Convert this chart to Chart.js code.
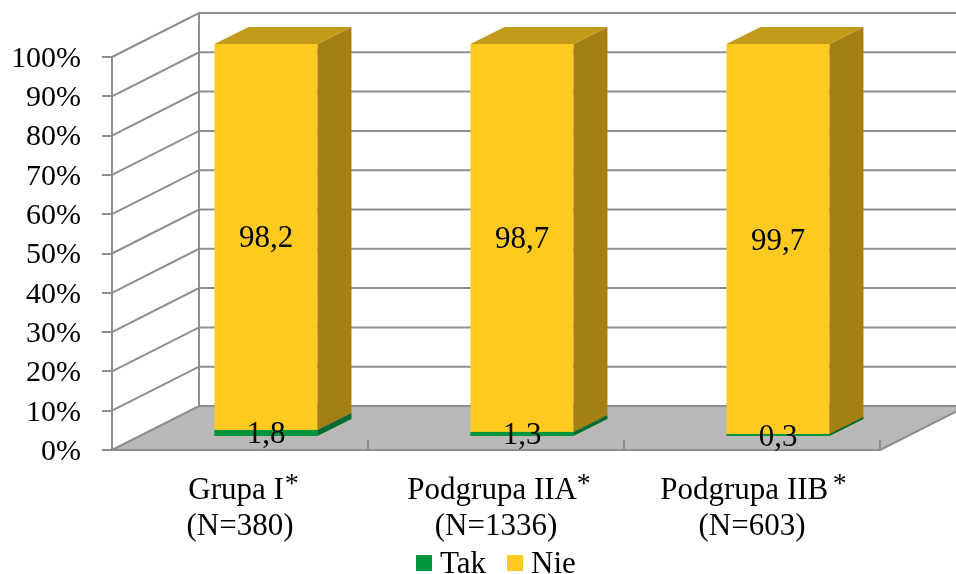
<!DOCTYPE html>
<html>
<head>
<meta charset="utf-8">
<script src="https://cdn.jsdelivr.net/npm/chart.js@4"></script>
<style>
  html, body { margin: 0; padding: 0; background: #fff; }
  canvas { display: block; }
</style>
</head>
<body>
<canvas id="chart" width="956" height="574"></canvas>
<script>
// Dane
const categories = [
  ['Grupa I\u00a0', '(N=380)'],
  ['Podgrupa IIA\u00a0', '(N=1336)'],
  ['Podgrupa IIB\u00a0\u00a0', '(N=603)']
];
const takValues = [1.8, 1.3, 0.3];
const nieValues = [98.2, 98.7, 99.7];
const yTicks = [0, 10, 20, 30, 40, 50, 60, 70, 80, 90, 100];

const FONT = '"Liberation Serif"';
const LINE = '#8e8e8e';

// przesuniecia perspektywy
const wallDx = 87, wallDy = 44;
const barDx = 26, barDy = 13;
const sideDx = 34, sideDy = 17;

const sideColors = ['#006c30', '#a47f13'];
const topColor = '#c29a17';
const starShift = [-7, -8, -11];
const minGreen = 2; // najcienszy pasek ma byc widoczny

function poly(ctx, pts) {
  ctx.beginPath();
  pts.forEach((p, i) => i ? ctx.lineTo(p[0], p[1]) : ctx.moveTo(p[0], p[1]));
  ctx.closePath();
}

const box3d = {
  id: 'box3d',
  beforeDraw(chart) {
    const { ctx, chartArea: a, scales: { y } } = chart;
    const backL = a.left + wallDx, backR = a.right + wallDx;
    ctx.save();
    // podloga
    poly(ctx, [[a.left, a.bottom], [a.right, a.bottom], [backR, a.bottom - wallDy], [backL, a.bottom - wallDy]]);
    ctx.fillStyle = '#b8b8b8';
    ctx.fill();
    // siatka
    ctx.strokeStyle = LINE;
    ctx.lineWidth = 2;
    yTicks.forEach(v => {
      const py = y.getPixelForValue(v);
      ctx.beginPath();
      ctx.moveTo(a.left, py);
      ctx.lineTo(backL, py - wallDy);
      ctx.lineTo(backR, py - wallDy);
      ctx.stroke();
    });
    ctx.beginPath();
    ctx.moveTo(a.left, a.top);
    ctx.lineTo(a.left, a.bottom);
    ctx.moveTo(backL, a.top - wallDy);
    ctx.lineTo(backL, a.bottom - wallDy);
    ctx.moveTo(a.right, a.bottom);
    ctx.lineTo(backR, a.bottom - wallDy);
    ctx.stroke();
    ctx.restore();
  },
  beforeDatasetsDraw(chart) {
    chart.ctx.save();
    chart.ctx.translate(barDx, -barDy);
  },
  afterDatasetsDraw(chart) {
    const ctx = chart.ctx;
    [1, 0].forEach(d => {
      chart.getDatasetMeta(d).data.forEach(bar => {
        const right = bar.x + bar.width / 2, left = bar.x - bar.width / 2;
        const top = d === 0 ? Math.min(bar.y, bar.base - minGreen) : bar.y;
        if (d === 0) {
          ctx.fillStyle = chart.data.datasets[0].backgroundColor;
          ctx.fillRect(left, top, bar.width, bar.base - top);
        }
        poly(ctx, [[right, top], [right + sideDx, top - sideDy], [right + sideDx, bar.base - sideDy], [right, bar.base]]);
        ctx.fillStyle = sideColors[d];
        ctx.fill();
        if (d === 1) {
          poly(ctx, [[left, top], [left + sideDx, top - sideDy], [right + sideDx, top - sideDy], [right, top]]);
          ctx.fillStyle = topColor;
          ctx.fill();
        }
      });
    });
    // etykiety wartosci
    ctx.font = '31px ' + FONT;
    ctx.fillStyle = '#000';
    ctx.textAlign = 'center';
    ctx.textBaseline = 'middle';
    chart.data.datasets.forEach((ds, d) => {
      chart.getDatasetMeta(d).data.forEach((bar, i) => {
        const c = bar.getCenterPoint();
        ctx.fillText(String(ds.data[i]).replace('.', ','), c.x, c.y + 2);
      });
    });
    ctx.restore();
  },
  afterDraw(chart) {
    const { ctx, scales: { x } } = chart;
    ctx.save();
    ctx.fillStyle = '#000';
    ctx.textBaseline = 'alphabetic';
    ctx.textAlign = 'left';
    // gwiazdki przy nazwach grup
    categories.forEach((lines, i) => {
      ctx.font = '31px ' + FONT;
      const half = ctx.measureText(lines[0]).width / 2;
      ctx.font = '28px ' + FONT;
      ctx.fillText('*', x.getPixelForTick(i) + half + starShift[i], 492);
    });
    // legenda
    ctx.font = '31px ' + FONT;
    const legendX = [416, 507];
    chart.data.datasets.forEach((ds, d) => {
      ctx.fillStyle = ds.backgroundColor;
      ctx.fillRect(legendX[d], 555, 16, 16);
      ctx.fillStyle = '#000';
      ctx.fillText(ds.label, legendX[d] + 24, 573);
    });
    ctx.restore();
  }
};

new Chart(document.getElementById('chart'), {
  type: 'bar',
  data: {
    labels: categories,
    datasets: [
      { label: 'Tak', data: takValues, backgroundColor: '#00963f', clip: false },
      { label: 'Nie', data: nieValues, backgroundColor: '#ffca20', clip: false }
    ]
  },
  options: {
    responsive: false,
    animation: false,
    events: [],
    barPercentage: 0.402,
    categoryPercentage: 1,
    layout: { padding: { top: 57, right: 76, left: 0, bottom: 0 } },
    plugins: {
      legend: { display: false },
      tooltip: { enabled: false }
    },
    scales: {
      x: {
        stacked: true,
        afterFit(s) { s.height = 124; },
        grid: { drawOnChartArea: false, color: LINE, lineWidth: 2, tickLength: -10 },
        border: { color: LINE, width: 2 },
        ticks: {
          color: '#000',
          maxRotation: 0,
          autoSkip: false,
          padding: 32,
          font: { family: FONT, size: 31, lineHeight: 1.19 }
        }
      },
      y: {
        stacked: true,
        min: 0,
        max: 100,
        afterFit(s) { s.width = 112; },
        afterBuildTicks(s) { s.ticks = yTicks.map(v => ({ value: v })); },
        grid: { drawOnChartArea: false, color: LINE, lineWidth: 2, tickLength: 10 },
        border: { color: LINE, width: 2 },
        ticks: {
          color: '#000',
          padding: 21,
          labelOffset: 2,
          autoSkip: false,
          font: { family: FONT, size: 30 },
          callback: v => v + '%'
        }
      }
    }
  },
  plugins: [box3d]
});
</script>
</body>
</html>
